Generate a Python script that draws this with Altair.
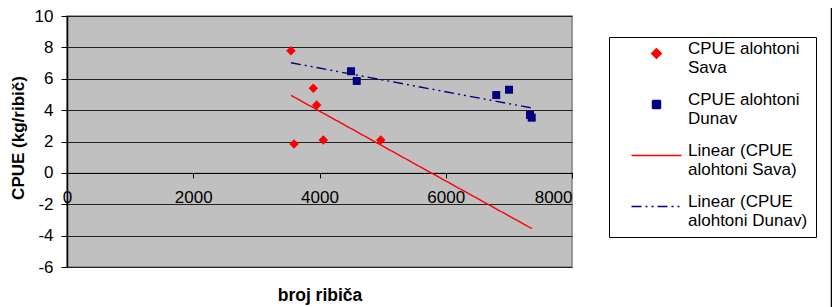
import altair as alt
import pandas as pd

# ---- data ----
sava_x = [3548, 3596, 3902, 3956, 4060, 4970]
sava_y = [7.79, 1.84, 5.39, 4.33, 2.10, 2.10]
dunav_x = [4499, 4590, 6800, 7002, 7335, 7362]
dunav_y = [6.48, 5.86, 4.96, 5.30, 3.69, 3.52]

series_order = [
    "CPUE alohtoni|Sava",
    "CPUE alohtoni|Dunav",
    "Linear (CPUE|alohtoni Sava)",
    "Linear (CPUE|alohtoni Dunav)",
]
series_colors = ["#FF0000", "#000080", "#FF0000", "#000080"]
# symbol paths; Vega scales them by sqrt(size)/2
series_shapes = [
    "M0,-0.95L0.95,0L0,0.95L-0.95,0Z",
    "M-0.8,-0.8L0.8,-0.8L0.8,0.8L-0.8,0.8Z",
    "M-5,0L5,0",
    "M-5,0L5,0",
]
series_dash = [[1, 0], [1, 0], [1, 0], [10, 4, 2, 4, 2, 4]]

x_ticks = [0, 2000, 4000, 6000, 8000]
y_ticks = [-6, -4, -2, 0, 2, 4, 6, 8, 10]
x_title = "broj ribiča"
y_title = "CPUE (kg/ribič)"

df = pd.DataFrame({
    "river": ["Sava"] * len(sava_x) + ["Dunav"] * len(dunav_x),
    "x": sava_x + dunav_x,
    "y": sava_y + dunav_y,
})
x_ext = [min(sava_x + dunav_x), max(sava_x + dunav_x)]

FONT = "Liberation Sans"
W, H = 505, 251
SYM = 100
y_zero_offset = -(H - H * 10 / 16)

legend = alt.Legend(
    title=None,
    orient="none",
    legendX=542,
    legendY=21,
    labelExpr="[split(datum.label, '|')[0] + '\u00a0\u00a0\u00a0\u00a0', split(datum.label, '|')[1]]",
    labelFont=FONT,
    labelFontSize=17,
    labelColor="black",
    labelBaseline="alphabetic",
    labelLimit=400,
    labelOffset=23,
    symbolOffset=31,
    symbolSize=SYM,
    padding=8,
    rowPadding=14,
    strokeColor="black",
    fillColor="white",
    symbolStrokeWidth=1.5,
)

x_enc = alt.X(
    "x:Q",
    scale=alt.Scale(domain=[0, 8000], nice=False, zero=False),
    axis=alt.Axis(
        values=x_ticks, offset=y_zero_offset, grid=False,
        domainColor="black", domainWidth=1, tickColor="black", tickSize=5,
        labelFont=FONT, labelFontSize=17, labelColor="black", labelPadding=12,
        labelExpr="'' + datum.value",
        labelAlign={"condition": {"test": "datum.value == 8000", "value": "right"}, "value": "center"},
        title=x_title, titleFont=FONT, titleFontSize=17.5, titleFontWeight="bold",
        titleColor="black", titleY=128, titleX=W / 2, titleBaseline="alphabetic",
    ),
)
y_enc = alt.Y(
    "y:Q",
    scale=alt.Scale(domain=[-6, 10], nice=False, zero=False),
    axis=alt.Axis(
        values=y_ticks, grid=True, gridColor="#222222", gridWidth=1,
        domainColor="black", domainWidth=1.5, tickColor="black", tickSize=6,
        labelFont=FONT, labelFontSize=17, labelColor="black", labelPadding=8,
        labelExpr="'' + datum.value",
        title=y_title, titleFont=FONT, titleFontSize=17, titleFontWeight="bold",
        titleColor="black", titleAngle=270, titleX=-49, titleY=H / 2 - 4,
        titleAlign="center", titleBaseline="middle",
    ),
)

color_enc = alt.Color("series:N", scale=alt.Scale(domain=series_order, range=series_colors), legend=legend)

lines = (
    alt.Chart(df)
    .transform_regression("x", "y", groupby=["river"], extent=x_ext)
    .transform_calculate(series="'Linear (CPUE|alohtoni ' + datum.river + ')'")
    .mark_line(strokeWidth=1.4)
    .encode(
        x=x_enc,
        y=y_enc,
        color=color_enc,
        strokeDash=alt.StrokeDash("series:N", scale=alt.Scale(domain=series_order, range=series_dash), legend=legend),
    )
)

points = (
    alt.Chart(df)
    .transform_calculate(series="'CPUE alohtoni|' + datum.river")
    .mark_point(filled=True, opacity=1, size=SYM)
    .encode(
        x=x_enc,
        y=y_enc,
        color=color_enc,
        shape=alt.Shape("series:N", scale=alt.Scale(domain=series_order, range=series_shapes), legend=legend),
    )
)

border = (
    alt.Chart(pd.DataFrame({"a": [0]}))
    .mark_rule(color="black", strokeWidth=1.5)
    .encode(x=alt.value(764.5), y=alt.value(-10), y2=alt.value(H + 45))
)

chart = (
    alt.layer(lines, points, border)
    .properties(
        width=W,
        height=H,
        autosize=alt.AutoSizeParams(type="none"),
        padding={"left": 59, "top": 8, "right": 260, "bottom": 40},
        background="white",
    )
    .configure_view(stroke="#808080", strokeWidth=1.5, fill="#C0C0C0")
)

chart.save("out.html", embed_options={"renderer": "svg", "actions": False})
